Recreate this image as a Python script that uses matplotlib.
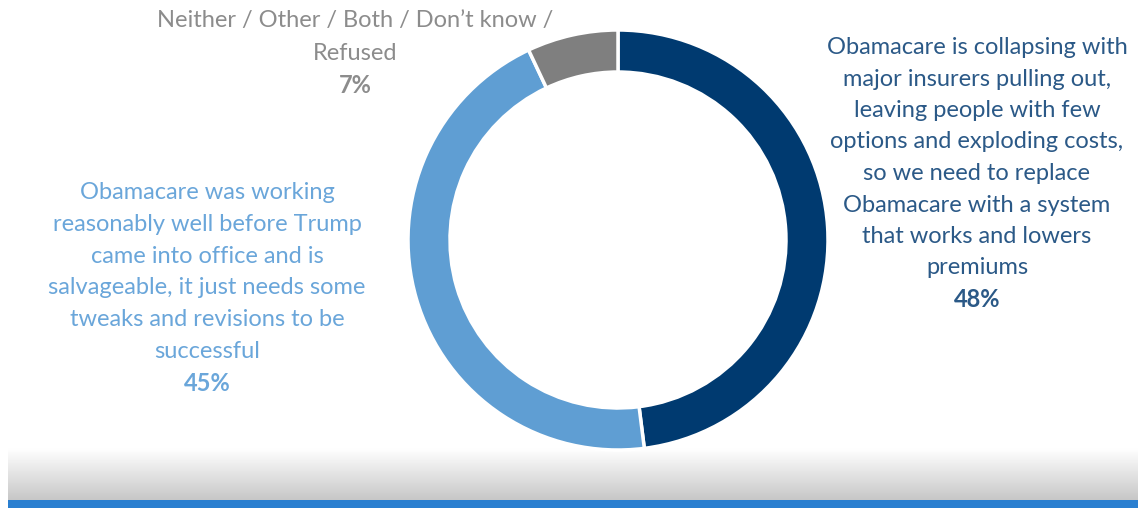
import matplotlib
matplotlib.use("Agg")
import matplotlib.pyplot as plt
import numpy as np

labels = [
    "Obamacare is collapsing with\nmajor insurers pulling out,\nleaving people with few\noptions and exploding costs,\nso we need to replace\nObamacare with a system\nthat works and lowers\npremiums",
    "Obamacare was working\nreasonably well before Trump\ncame into office and is\nsalvageable, it just needs some\ntweaks and revisions to be\nsuccessful",
    "Neither / Other / Both / Don\u2019t know /\nRefused",
]
values = [48, 45, 7]
colors = ["#003a70", "#5f9ed3", "#7f7f7f"]
text_colors = ["#2b5987", "#6aa6da", "#8c8c8c"]

W, H = 1138, 508
fig = plt.figure(figsize=(W / 100, H / 100), dpi=100)
ax = fig.add_axes([0, 0, 1, 1])
ax.set_xlim(0, W)
ax.set_ylim(0, H)
ax.set_aspect("equal")
ax.axis("off")

# bottom gradient band and blue line
grad = np.linspace(1.0, 0.78, 100).reshape(-1, 1)
ax.imshow(grad, extent=(8, W, 8, 60), cmap="gray", vmin=0, vmax=1,
          aspect="auto", interpolation="bilinear", zorder=0)
ax.add_patch(plt.Rectangle((8, 0), W, 8, color="#2a7fd0", zorder=1, lw=0))

cx, cy, r = 618, H - 240, 210
ax.pie(values, colors=colors, startangle=90, counterclock=False,
       center=(cx, cy), radius=r, frame=True,
       wedgeprops=dict(width=r * 0.2, edgecolor="white", linewidth=2.5))
ax.set_xlim(0, W)
ax.set_ylim(0, H)
ax.axis("off")

fam = ["Lato", "DejaVu Sans"]
fs = 17.0

# (center x, center y of first line from top, line step)
pos = [(977, 47, 31.5), (207, 192, 31.8), (355, 20, 32.5)]
for lab, v, tc, (x, y0, step) in zip(labels, values, text_colors, pos):
    lines = lab.split("\n")
    for i, line in enumerate(lines):
        yc = y0 + i * step
        ax.text(x, H - yc - 7, line, ha="center", va="baseline", fontsize=fs,
                color=tc, family=fam)
    yc = y0 + len(lines) * step + 1
    ax.text(x, H - yc - 7, f"{v}%", ha="center", va="baseline", fontsize=fs,
            color=tc, family=fam, fontweight="bold")

fig.savefig("out.png", dpi=100)
